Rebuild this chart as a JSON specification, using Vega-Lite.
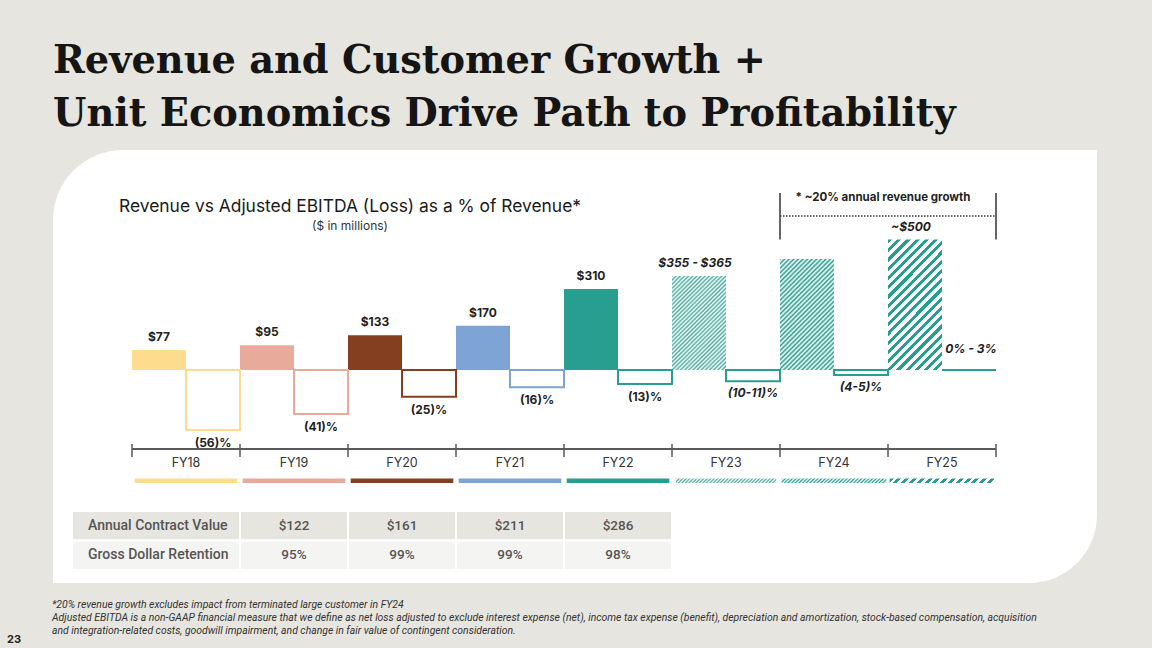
{
"$schema": "https://vega.github.io/schema/vega-lite/v6.json",
"width": 1044,
"height": 433,
"autosize": {"type": "none"},
"padding": {"left": 53, "top": 150, "right": 55, "bottom": 65},
"background": "#e6e5df",
"config": {"view": {"stroke": null}, "text": {"font": "Inter"}},
"title": {"text": ["Revenue and Customer Growth +", "Unit Economics Drive Path to Profitability"], "anchor": "start", "frame": "group", "font": "DejaVu Serif", "fontSize": 38.3, "fontWeight": "bold", "color": "#151515", "lineHeight": 53, "offset": 16, "dx": 0},
"datasets": {
 "fin": [
  {"year": "FY18", "revenue": 77, "revLabel": "$77", "ebitda": -56, "ebitdaLabel": "(56)%", "outlook": false},
  {"year": "FY19", "revenue": 95, "revLabel": "$95", "ebitda": -41, "ebitdaLabel": "(41)%", "outlook": false},
  {"year": "FY20", "revenue": 133, "revLabel": "$133", "ebitda": -25, "ebitdaLabel": "(25)%", "outlook": false},
  {"year": "FY21", "revenue": 170, "revLabel": "$170", "ebitda": -16, "ebitdaLabel": "(16)%", "outlook": false},
  {"year": "FY22", "revenue": 310, "revLabel": "$310", "ebitda": -13, "ebitdaLabel": "(13)%", "outlook": false},
  {"year": "FY23", "revenue": 360, "revLabel": "$355 - $365", "ebitda": -10.5, "ebitdaLabel": "(10-11)%", "outlook": true},
  {"year": "FY24", "revenue": 425, "revLabel": "", "ebitda": -4.5, "ebitdaLabel": "(4-5)%", "outlook": true},
  {"year": "FY25", "revenue": 500, "revLabel": "~$500", "ebitda": 0, "ebitdaLabel": "0% - 3%", "outlook": true}
 ],
 "table": [
  {"metric": "Annual Contract Value", "year": "FY19", "value": "$122"},
  {"metric": "Annual Contract Value", "year": "FY20", "value": "$161"},
  {"metric": "Annual Contract Value", "year": "FY21", "value": "$211"},
  {"metric": "Annual Contract Value", "year": "FY22", "value": "$286"},
  {"metric": "Gross Dollar Retention", "year": "FY19", "value": "95%"},
  {"metric": "Gross Dollar Retention", "year": "FY20", "value": "99%"},
  {"metric": "Gross Dollar Retention", "year": "FY21", "value": "99%"},
  {"metric": "Gross Dollar Retention", "year": "FY22", "value": "98%"}
 ],
 "bracket": [
  {"start": "FY24", "end": "FY25", "label": "* ~20% annual revenue growth"}
 ],
 "timeline": [
  {"start": "FY18", "end": "FY25"}
 ],
 "notes": [
  {"text": ["*20% revenue growth excludes impact from terminated large customer in FY24", "Adjusted EBITDA is a non-GAAP financial measure that we define as net loss adjusted to exclude interest expense (net), income tax expense (benefit), depreciation and amortization, stock-based compensation, acquisition", "and integration-related costs,  goodwill impairment,  and change in fair value of contingent consideration."]}
 ],
 "page": [
  {"text": "23"}
 ]
},
"layer": [
 {"data": {"values": [{}]}, "mark": {"type": "rect", "fill": "#ffffff", "cornerRadiusTopLeft": 70, "cornerRadiusBottomRight": 68}, "encoding": {}},
 {"layer": [
  {"data": {"name": "fin"}, "transform": [{"filter": "!datum.outlook"}], "mark": {"type": "bar"},
   "encoding": {
    "x": {"field": "year", "type": "nominal", "scale": {"domain": ["FY18","FY19","FY20","FY21","FY22","FY23","FY24","FY25"], "paddingInner": 0, "paddingOuter": 0.8333, "align": 0.4389}, "axis": null},
    "xOffset": {"datum": "Revenue", "type": "nominal", "scale": {"domain": ["Revenue", "EBITDA"], "paddingInner": 0, "paddingOuter": 0}},
    "y": {"field": "revenue", "type": "quantitative", "scale": {"domain": [-816, 843], "nice": false, "zero": false}, "axis": null},
    "y2": {"datum": 0},
    "fill": {"field": "year", "type": "nominal", "scale": {"domain": ["FY18","FY19","FY20","FY21","FY22","FY23","FY24","FY25"], "range": ["#fddc8e","#e8ab9b","#843f21","#7ea3d5","#279e8f","#279e8f","#279e8f","#279e8f"]}, "legend": null}
   }},
  {"data": {"name": "fin"}, "transform": [{"filter": "datum.year === 'FY23'"}],
   "mark": {"type": "bar", "fill": {"gradient": "linear", "x1": 0, "y1": 0, "x2": 0.673, "y2": 1.186, "stops": [{"offset":0,"color":"#49ab9f"},{"offset":0.0139,"color":"#fff"},{"offset":0.0278,"color":"#49ab9f"},{"offset":0.0417,"color":"#fff"},{"offset":0.0556,"color":"#49ab9f"},{"offset":0.0694,"color":"#fff"},{"offset":0.0833,"color":"#49ab9f"},{"offset":0.0972,"color":"#fff"},{"offset":0.1111,"color":"#49ab9f"},{"offset":0.125,"color":"#fff"},{"offset":0.1389,"color":"#49ab9f"},{"offset":0.1528,"color":"#fff"},{"offset":0.1667,"color":"#49ab9f"},{"offset":0.1806,"color":"#fff"},{"offset":0.1944,"color":"#49ab9f"},{"offset":0.2083,"color":"#fff"},{"offset":0.2222,"color":"#49ab9f"},{"offset":0.2361,"color":"#fff"},{"offset":0.25,"color":"#49ab9f"},{"offset":0.2639,"color":"#fff"},{"offset":0.2778,"color":"#49ab9f"},{"offset":0.2917,"color":"#fff"},{"offset":0.3056,"color":"#49ab9f"},{"offset":0.3194,"color":"#fff"},{"offset":0.3333,"color":"#49ab9f"},{"offset":0.3472,"color":"#fff"},{"offset":0.3611,"color":"#49ab9f"},{"offset":0.375,"color":"#fff"},{"offset":0.3889,"color":"#49ab9f"},{"offset":0.4028,"color":"#fff"},{"offset":0.4167,"color":"#49ab9f"},{"offset":0.4306,"color":"#fff"},{"offset":0.4444,"color":"#49ab9f"},{"offset":0.4583,"color":"#fff"},{"offset":0.4722,"color":"#49ab9f"},{"offset":0.4861,"color":"#fff"},{"offset":0.5,"color":"#49ab9f"},{"offset":0.5139,"color":"#fff"},{"offset":0.5278,"color":"#49ab9f"},{"offset":0.5417,"color":"#fff"},{"offset":0.5556,"color":"#49ab9f"},{"offset":0.5694,"color":"#fff"},{"offset":0.5833,"color":"#49ab9f"},{"offset":0.5972,"color":"#fff"},{"offset":0.6111,"color":"#49ab9f"},{"offset":0.625,"color":"#fff"},{"offset":0.6389,"color":"#49ab9f"},{"offset":0.6528,"color":"#fff"},{"offset":0.6667,"color":"#49ab9f"},{"offset":0.6806,"color":"#fff"},{"offset":0.6944,"color":"#49ab9f"},{"offset":0.7083,"color":"#fff"},{"offset":0.7222,"color":"#49ab9f"},{"offset":0.7361,"color":"#fff"},{"offset":0.75,"color":"#49ab9f"},{"offset":0.7639,"color":"#fff"},{"offset":0.7778,"color":"#49ab9f"},{"offset":0.7917,"color":"#fff"},{"offset":0.8056,"color":"#49ab9f"},{"offset":0.8194,"color":"#fff"},{"offset":0.8333,"color":"#49ab9f"},{"offset":0.8472,"color":"#fff"},{"offset":0.8611,"color":"#49ab9f"},{"offset":0.875,"color":"#fff"},{"offset":0.8889,"color":"#49ab9f"},{"offset":0.9028,"color":"#fff"},{"offset":0.9167,"color":"#49ab9f"},{"offset":0.9306,"color":"#fff"},{"offset":0.9444,"color":"#49ab9f"},{"offset":0.9583,"color":"#fff"},{"offset":0.9722,"color":"#49ab9f"},{"offset":0.9861,"color":"#fff"},{"offset":1,"color":"#49ab9f"}]}},
   "encoding": {
    "x": {"field": "year", "type": "nominal", "scale": {"domain": ["FY18","FY19","FY20","FY21","FY22","FY23","FY24","FY25"], "paddingInner": 0, "paddingOuter": 0.8333, "align": 0.4389}, "axis": null},
    "xOffset": {"datum": "Revenue", "type": "nominal", "scale": {"domain": ["Revenue", "EBITDA"], "paddingInner": 0, "paddingOuter": 0}},
    "y": {"field": "revenue", "type": "quantitative", "scale": {"domain": [-816, 843], "nice": false, "zero": false}, "axis": null},
    "y2": {"datum": 0}
   }},
  {"data": {"name": "fin"}, "transform": [{"filter": "datum.year === 'FY24'"}],
   "mark": {"type": "bar", "fill": {"gradient": "linear", "x1": 0, "y1": 0, "x2": 0.584, "y2": 1.202, "stops": [{"offset":0,"color":"#279e8f"},{"offset":0.0139,"color":"#fff"},{"offset":0.0278,"color":"#279e8f"},{"offset":0.0417,"color":"#fff"},{"offset":0.0556,"color":"#279e8f"},{"offset":0.0694,"color":"#fff"},{"offset":0.0833,"color":"#279e8f"},{"offset":0.0972,"color":"#fff"},{"offset":0.1111,"color":"#279e8f"},{"offset":0.125,"color":"#fff"},{"offset":0.1389,"color":"#279e8f"},{"offset":0.1528,"color":"#fff"},{"offset":0.1667,"color":"#279e8f"},{"offset":0.1806,"color":"#fff"},{"offset":0.1944,"color":"#279e8f"},{"offset":0.2083,"color":"#fff"},{"offset":0.2222,"color":"#279e8f"},{"offset":0.2361,"color":"#fff"},{"offset":0.25,"color":"#279e8f"},{"offset":0.2639,"color":"#fff"},{"offset":0.2778,"color":"#279e8f"},{"offset":0.2917,"color":"#fff"},{"offset":0.3056,"color":"#279e8f"},{"offset":0.3194,"color":"#fff"},{"offset":0.3333,"color":"#279e8f"},{"offset":0.3472,"color":"#fff"},{"offset":0.3611,"color":"#279e8f"},{"offset":0.375,"color":"#fff"},{"offset":0.3889,"color":"#279e8f"},{"offset":0.4028,"color":"#fff"},{"offset":0.4167,"color":"#279e8f"},{"offset":0.4306,"color":"#fff"},{"offset":0.4444,"color":"#279e8f"},{"offset":0.4583,"color":"#fff"},{"offset":0.4722,"color":"#279e8f"},{"offset":0.4861,"color":"#fff"},{"offset":0.5,"color":"#279e8f"},{"offset":0.5139,"color":"#fff"},{"offset":0.5278,"color":"#279e8f"},{"offset":0.5417,"color":"#fff"},{"offset":0.5556,"color":"#279e8f"},{"offset":0.5694,"color":"#fff"},{"offset":0.5833,"color":"#279e8f"},{"offset":0.5972,"color":"#fff"},{"offset":0.6111,"color":"#279e8f"},{"offset":0.625,"color":"#fff"},{"offset":0.6389,"color":"#279e8f"},{"offset":0.6528,"color":"#fff"},{"offset":0.6667,"color":"#279e8f"},{"offset":0.6806,"color":"#fff"},{"offset":0.6944,"color":"#279e8f"},{"offset":0.7083,"color":"#fff"},{"offset":0.7222,"color":"#279e8f"},{"offset":0.7361,"color":"#fff"},{"offset":0.75,"color":"#279e8f"},{"offset":0.7639,"color":"#fff"},{"offset":0.7778,"color":"#279e8f"},{"offset":0.7917,"color":"#fff"},{"offset":0.8056,"color":"#279e8f"},{"offset":0.8194,"color":"#fff"},{"offset":0.8333,"color":"#279e8f"},{"offset":0.8472,"color":"#fff"},{"offset":0.8611,"color":"#279e8f"},{"offset":0.875,"color":"#fff"},{"offset":0.8889,"color":"#279e8f"},{"offset":0.9028,"color":"#fff"},{"offset":0.9167,"color":"#279e8f"},{"offset":0.9306,"color":"#fff"},{"offset":0.9444,"color":"#279e8f"},{"offset":0.9583,"color":"#fff"},{"offset":0.9722,"color":"#279e8f"},{"offset":0.9861,"color":"#fff"},{"offset":1,"color":"#279e8f"}]}},
   "encoding": {
    "x": {"field": "year", "type": "nominal", "scale": {"domain": ["FY18","FY19","FY20","FY21","FY22","FY23","FY24","FY25"], "paddingInner": 0, "paddingOuter": 0.8333, "align": 0.4389}, "axis": null},
    "xOffset": {"datum": "Revenue", "type": "nominal", "scale": {"domain": ["Revenue", "EBITDA"], "paddingInner": 0, "paddingOuter": 0}},
    "y": {"field": "revenue", "type": "quantitative", "scale": {"domain": [-816, 843], "nice": false, "zero": false}, "axis": null},
    "y2": {"datum": 0}
   }},
  {"data": {"name": "fin"}, "transform": [{"filter": "datum.year === 'FY25'"}],
   "mark": {"type": "bar", "fill": {"gradient": "linear", "x1": 0, "y1": 0, "x2": 0.501, "y2": 1.207, "stops": [{"offset":0,"color":"#279e8f"},{"offset":0.0225,"color":"#279e8f"},{"offset":0.0225,"color":"#fff"},{"offset":0.05,"color":"#fff"},{"offset":0.05,"color":"#279e8f"},{"offset":0.0725,"color":"#279e8f"},{"offset":0.0725,"color":"#fff"},{"offset":0.1,"color":"#fff"},{"offset":0.1,"color":"#279e8f"},{"offset":0.1225,"color":"#279e8f"},{"offset":0.1225,"color":"#fff"},{"offset":0.15,"color":"#fff"},{"offset":0.15,"color":"#279e8f"},{"offset":0.1725,"color":"#279e8f"},{"offset":0.1725,"color":"#fff"},{"offset":0.2,"color":"#fff"},{"offset":0.2,"color":"#279e8f"},{"offset":0.2225,"color":"#279e8f"},{"offset":0.2225,"color":"#fff"},{"offset":0.25,"color":"#fff"},{"offset":0.25,"color":"#279e8f"},{"offset":0.2725,"color":"#279e8f"},{"offset":0.2725,"color":"#fff"},{"offset":0.3,"color":"#fff"},{"offset":0.3,"color":"#279e8f"},{"offset":0.3225,"color":"#279e8f"},{"offset":0.3225,"color":"#fff"},{"offset":0.35,"color":"#fff"},{"offset":0.35,"color":"#279e8f"},{"offset":0.3725,"color":"#279e8f"},{"offset":0.3725,"color":"#fff"},{"offset":0.4,"color":"#fff"},{"offset":0.4,"color":"#279e8f"},{"offset":0.4225,"color":"#279e8f"},{"offset":0.4225,"color":"#fff"},{"offset":0.45,"color":"#fff"},{"offset":0.45,"color":"#279e8f"},{"offset":0.4725,"color":"#279e8f"},{"offset":0.4725,"color":"#fff"},{"offset":0.5,"color":"#fff"},{"offset":0.5,"color":"#279e8f"},{"offset":0.5225,"color":"#279e8f"},{"offset":0.5225,"color":"#fff"},{"offset":0.55,"color":"#fff"},{"offset":0.55,"color":"#279e8f"},{"offset":0.5725,"color":"#279e8f"},{"offset":0.5725,"color":"#fff"},{"offset":0.6,"color":"#fff"},{"offset":0.6,"color":"#279e8f"},{"offset":0.6225,"color":"#279e8f"},{"offset":0.6225,"color":"#fff"},{"offset":0.65,"color":"#fff"},{"offset":0.65,"color":"#279e8f"},{"offset":0.6725,"color":"#279e8f"},{"offset":0.6725,"color":"#fff"},{"offset":0.7,"color":"#fff"},{"offset":0.7,"color":"#279e8f"},{"offset":0.7225,"color":"#279e8f"},{"offset":0.7225,"color":"#fff"},{"offset":0.75,"color":"#fff"},{"offset":0.75,"color":"#279e8f"},{"offset":0.7725,"color":"#279e8f"},{"offset":0.7725,"color":"#fff"},{"offset":0.8,"color":"#fff"},{"offset":0.8,"color":"#279e8f"},{"offset":0.8225,"color":"#279e8f"},{"offset":0.8225,"color":"#fff"},{"offset":0.85,"color":"#fff"},{"offset":0.85,"color":"#279e8f"},{"offset":0.8725,"color":"#279e8f"},{"offset":0.8725,"color":"#fff"},{"offset":0.9,"color":"#fff"},{"offset":0.9,"color":"#279e8f"},{"offset":0.9225,"color":"#279e8f"},{"offset":0.9225,"color":"#fff"},{"offset":0.95,"color":"#fff"},{"offset":0.95,"color":"#279e8f"},{"offset":0.9725,"color":"#279e8f"},{"offset":0.9725,"color":"#fff"},{"offset":1,"color":"#fff"}]}},
   "encoding": {
    "x": {"field": "year", "type": "nominal", "scale": {"domain": ["FY18","FY19","FY20","FY21","FY22","FY23","FY24","FY25"], "paddingInner": 0, "paddingOuter": 0.8333, "align": 0.4389}, "axis": null},
    "xOffset": {"datum": "Revenue", "type": "nominal", "scale": {"domain": ["Revenue", "EBITDA"], "paddingInner": 0, "paddingOuter": 0}},
    "y": {"field": "revenue", "type": "quantitative", "scale": {"domain": [-816, 843], "nice": false, "zero": false}, "axis": null},
    "y2": {"datum": 0}
   }},
  {"data": {"name": "fin"}, "transform": [{"filter": "!datum.outlook"}],
   "mark": {"type": "text", "font": "Inter", "fontSize": 12, "fontWeight": "bold", "color": "#1f1f1f", "dy": -13},
   "encoding": {
    "x": {"field": "year", "type": "nominal", "scale": {"domain": ["FY18","FY19","FY20","FY21","FY22","FY23","FY24","FY25"], "paddingInner": 0, "paddingOuter": 0.8333, "align": 0.4389}, "axis": null},
    "xOffset": {"datum": "Revenue", "type": "nominal", "scale": {"domain": ["Revenue", "EBITDA"], "paddingInner": 0, "paddingOuter": 0}},
    "y": {"field": "revenue", "type": "quantitative", "scale": {"domain": [-816, 843], "nice": false, "zero": false}, "axis": null},
    "text": {"field": "revLabel"}
   }},
  {"data": {"name": "fin"}, "transform": [{"filter": "datum.outlook"}],
   "mark": {"type": "text", "font": "Inter", "fontSize": 12, "fontWeight": "bold", "fontStyle": "italic", "color": "#1f1f1f", "dy": -13, "dx": -4},
   "encoding": {
    "x": {"field": "year", "type": "nominal", "scale": {"domain": ["FY18","FY19","FY20","FY21","FY22","FY23","FY24","FY25"], "paddingInner": 0, "paddingOuter": 0.8333, "align": 0.4389}, "axis": null},
    "xOffset": {"datum": "Revenue", "type": "nominal", "scale": {"domain": ["Revenue", "EBITDA"], "paddingInner": 0, "paddingOuter": 0}},
    "y": {"field": "revenue", "type": "quantitative", "scale": {"domain": [-816, 843], "nice": false, "zero": false}, "axis": null},
    "text": {"field": "revLabel"}
   }},
  {"data": {"name": "bracket"}, "mark": {"type": "rule", "color": "#333", "strokeWidth": 1.5},
   "encoding": {
    "x": {"field": "start", "type": "nominal", "bandPosition": 0, "scale": {"domain": ["FY18","FY19","FY20","FY21","FY22","FY23","FY24","FY25"], "paddingInner": 0, "paddingOuter": 0.8333, "align": 0.4389}, "axis": null},
    "y": {"datum": 500, "type": "quantitative", "scale": {"domain": [-816, 843], "nice": false, "zero": false}, "axis": null},
    "y2": {"datum": 678}
   }},
  {"data": {"name": "bracket"}, "mark": {"type": "rule", "color": "#333", "strokeWidth": 1.5},
   "encoding": {
    "x": {"field": "end", "type": "nominal", "bandPosition": 1, "scale": {"domain": ["FY18","FY19","FY20","FY21","FY22","FY23","FY24","FY25"], "paddingInner": 0, "paddingOuter": 0.8333, "align": 0.4389}, "axis": null},
    "y": {"datum": 500, "type": "quantitative", "scale": {"domain": [-816, 843], "nice": false, "zero": false}, "axis": null},
    "y2": {"datum": 678}
   }},
  {"data": {"name": "bracket"}, "mark": {"type": "rule", "color": "#333", "strokeWidth": 1.5, "strokeDash": [1.5, 1.5]},
   "encoding": {
    "x": {"field": "start", "type": "nominal", "bandPosition": 0, "scale": {"domain": ["FY18","FY19","FY20","FY21","FY22","FY23","FY24","FY25"], "paddingInner": 0, "paddingOuter": 0.8333, "align": 0.4389}, "axis": null},
    "x2": {"field": "end", "bandPosition": 1},
    "y": {"datum": 590, "type": "quantitative", "scale": {"domain": [-816, 843], "nice": false, "zero": false}, "axis": null}
   }},
  {"data": {"name": "bracket"}, "mark": {"type": "text", "font": "Inter", "fontSize": 11.5, "fontWeight": "bold", "color": "#1f1f1f", "dx": -5},
   "encoding": {
    "x": {"field": "end", "type": "nominal", "bandPosition": 0, "scale": {"domain": ["FY18","FY19","FY20","FY21","FY22","FY23","FY24","FY25"], "paddingInner": 0, "paddingOuter": 0.8333, "align": 0.4389}, "axis": null},
    "y": {"datum": 659, "type": "quantitative", "scale": {"domain": [-816, 843], "nice": false, "zero": false}, "axis": null},
    "text": {"field": "label"}
   }},
  {"data": {"values": [{"text": "Revenue vs Adjusted EBITDA (Loss) as a % of Revenue*"}]}, "mark": {"type": "text", "font": "Inter", "fontSize": 17.4, "color": "#1a1a1a", "dx": 2},
   "encoding": {
    "x": {"datum": "FY20", "type": "nominal", "bandPosition": 0, "scale": {"domain": ["FY18","FY19","FY20","FY21","FY22","FY23","FY24","FY25"], "paddingInner": 0, "paddingOuter": 0.8333, "align": 0.4389}, "axis": null},
    "y": {"datum": 624.5, "type": "quantitative", "scale": {"domain": [-816, 843], "nice": false, "zero": false}, "axis": null},
    "text": {"field": "text"}
   }},
  {"data": {"values": [{"text": "($ in millions)"}]}, "mark": {"type": "text", "font": "Inter", "fontSize": 12, "color": "#333", "dx": 2},
   "encoding": {
    "x": {"datum": "FY20", "type": "nominal", "bandPosition": 0, "scale": {"domain": ["FY18","FY19","FY20","FY21","FY22","FY23","FY24","FY25"], "paddingInner": 0, "paddingOuter": 0.8333, "align": 0.4389}, "axis": null},
    "y": {"datum": 552, "type": "quantitative", "scale": {"domain": [-816, 843], "nice": false, "zero": false}, "axis": null},
    "text": {"field": "text"}
   }}
 ]},
 {"layer": [
  {"data": {"name": "fin"}, "mark": {"type": "bar", "fill": "#ffffff", "strokeWidth": 2},
   "encoding": {
    "x": {"field": "year", "type": "nominal", "scale": {"domain": ["FY18","FY19","FY20","FY21","FY22","FY23","FY24","FY25"], "paddingInner": 0, "paddingOuter": 0.8333, "align": 0.4389}, "axis": null},
    "xOffset": {"datum": "EBITDA", "type": "nominal", "scale": {"domain": ["Revenue", "EBITDA"], "paddingInner": 0, "paddingOuter": 0}},
    "y": {"field": "ebitda", "type": "quantitative", "scale": {"domain": [-199, 205.7], "nice": false, "zero": false}, "axis": null},
    "y2": {"datum": 0},
    "stroke": {"field": "year", "type": "nominal", "scale": {"domain": ["FY18","FY19","FY20","FY21","FY22","FY23","FY24","FY25"], "range": ["#fddc8e","#e8ab9b","#843f21","#7ea3d5","#279e8f","#279e8f","#279e8f","#279e8f"]}, "legend": null}
   }},
  {"data": {"name": "fin"}, "transform": [{"filter": "!datum.outlook"}],
   "mark": {"type": "text", "font": "Inter", "fontSize": 12, "fontWeight": "bold", "color": "#1f1f1f", "dy": 13},
   "encoding": {
    "x": {"field": "year", "type": "nominal", "scale": {"domain": ["FY18","FY19","FY20","FY21","FY22","FY23","FY24","FY25"], "paddingInner": 0, "paddingOuter": 0.8333, "align": 0.4389}, "axis": null},
    "xOffset": {"datum": "EBITDA", "type": "nominal", "scale": {"domain": ["Revenue", "EBITDA"], "paddingInner": 0, "paddingOuter": 0}},
    "y": {"field": "ebitda", "type": "quantitative", "scale": {"domain": [-199, 205.7], "nice": false, "zero": false}, "axis": null},
    "text": {"field": "ebitdaLabel"}
   }},
  {"data": {"name": "fin"}, "transform": [{"filter": "datum.outlook && datum.ebitda < 0"}],
   "mark": {"type": "text", "font": "Inter", "fontSize": 12, "fontWeight": "bold", "fontStyle": "italic", "color": "#1f1f1f", "dy": 12},
   "encoding": {
    "x": {"field": "year", "type": "nominal", "scale": {"domain": ["FY18","FY19","FY20","FY21","FY22","FY23","FY24","FY25"], "paddingInner": 0, "paddingOuter": 0.8333, "align": 0.4389}, "axis": null},
    "xOffset": {"datum": "EBITDA", "type": "nominal", "scale": {"domain": ["Revenue", "EBITDA"], "paddingInner": 0, "paddingOuter": 0}},
    "y": {"field": "ebitda", "type": "quantitative", "scale": {"domain": [-199, 205.7], "nice": false, "zero": false}, "axis": null},
    "text": {"field": "ebitdaLabel"}
   }},
  {"data": {"name": "fin"}, "transform": [{"filter": "datum.outlook && datum.ebitda >= 0"}],
   "mark": {"type": "text", "font": "Inter", "fontSize": 12, "fontWeight": "bold", "fontStyle": "italic", "color": "#1f1f1f", "dy": -21, "dx": 2},
   "encoding": {
    "x": {"field": "year", "type": "nominal", "scale": {"domain": ["FY18","FY19","FY20","FY21","FY22","FY23","FY24","FY25"], "paddingInner": 0, "paddingOuter": 0.8333, "align": 0.4389}, "axis": null},
    "xOffset": {"datum": "EBITDA", "type": "nominal", "scale": {"domain": ["Revenue", "EBITDA"], "paddingInner": 0, "paddingOuter": 0}},
    "y": {"field": "ebitda", "type": "quantitative", "scale": {"domain": [-199, 205.7], "nice": false, "zero": false}, "axis": null},
    "text": {"field": "ebitdaLabel"}
   }},
  {"data": {"name": "timeline"}, "mark": {"type": "rule", "color": "#5a5a5a", "strokeWidth": 2},
   "encoding": {
    "x": {"field": "start", "type": "nominal", "bandPosition": 0, "scale": {"domain": ["FY18","FY19","FY20","FY21","FY22","FY23","FY24","FY25"], "paddingInner": 0, "paddingOuter": 0.8333, "align": 0.4389}, "axis": null},
    "x2": {"field": "end", "bandPosition": 1},
    "y": {"datum": -73.76, "type": "quantitative", "scale": {"domain": [-199, 205.7], "nice": false, "zero": false}, "axis": null}
   }},
  {"data": {"name": "fin"}, "mark": {"type": "rule", "color": "#5a5a5a", "strokeWidth": 1.5},
   "encoding": {
    "x": {"field": "year", "type": "nominal", "bandPosition": 0, "scale": {"domain": ["FY18","FY19","FY20","FY21","FY22","FY23","FY24","FY25"], "paddingInner": 0, "paddingOuter": 0.8333, "align": 0.4389}, "axis": null},
    "y": {"datum": -69.1, "type": "quantitative", "scale": {"domain": [-199, 205.7], "nice": false, "zero": false}, "axis": null},
    "y2": {"datum": -81.2}
   }},
  {"data": {"name": "timeline"}, "mark": {"type": "rule", "color": "#5a5a5a", "strokeWidth": 1.5},
   "encoding": {
    "x": {"field": "end", "type": "nominal", "bandPosition": 1, "scale": {"domain": ["FY18","FY19","FY20","FY21","FY22","FY23","FY24","FY25"], "paddingInner": 0, "paddingOuter": 0.8333, "align": 0.4389}, "axis": null},
    "y": {"datum": -69.1, "type": "quantitative", "scale": {"domain": [-199, 205.7], "nice": false, "zero": false}, "axis": null},
    "y2": {"datum": -81.2}
   }},
  {"data": {"name": "fin"}, "mark": {"type": "text", "font": "Inter", "fontSize": 12.5, "color": "#333"},
   "encoding": {
    "x": {"field": "year", "type": "nominal", "scale": {"domain": ["FY18","FY19","FY20","FY21","FY22","FY23","FY24","FY25"], "paddingInner": 0, "paddingOuter": 0.8333, "align": 0.4389}, "axis": null},
    "y": {"datum": -86.85, "type": "quantitative", "scale": {"domain": [-199, 205.7], "nice": false, "zero": false}, "axis": null},
    "text": {"field": "year"}
   }},
  {"data": {"name": "notes"}, "mark": {"type": "text", "align": "left", "baseline": "top", "dx": -80, "font": "Roboto", "fontSize": 10.4, "fontStyle": "italic", "color": "#333", "lineHeight": 13},
   "encoding": {
    "x": {"datum": "FY18", "type": "nominal", "bandPosition": 0, "scale": {"domain": ["FY18","FY19","FY20","FY21","FY22","FY23","FY24","FY25"], "paddingInner": 0, "paddingOuter": 0.8333, "align": 0.4389}, "axis": null},
    "y": {"datum": -215.3, "type": "quantitative", "scale": {"domain": [-199, 205.7], "nice": false, "zero": false}, "axis": null},
    "text": {"field": "text"}
   }},
  {"data": {"name": "page"}, "mark": {"type": "text", "dx": -118, "font": "Inter", "fontSize": 11, "fontWeight": "bold", "color": "#222"},
   "encoding": {
    "x": {"datum": "FY18", "type": "nominal", "bandPosition": 0, "scale": {"domain": ["FY18","FY19","FY20","FY21","FY22","FY23","FY24","FY25"], "paddingInner": 0, "paddingOuter": 0.8333, "align": 0.4389}, "axis": null},
    "y": {"datum": -252.4, "type": "quantitative", "scale": {"domain": [-199, 205.7], "nice": false, "zero": false}, "axis": null},
    "text": {"field": "text"}
   }},
  {"data": {"name": "fin"}, "transform": [{"filter": "!datum.outlook"}],
   "mark": {"type": "bar", "width": {"band": 0.95}},
   "encoding": {
    "x": {"field": "year", "type": "nominal", "scale": {"domain": ["FY18","FY19","FY20","FY21","FY22","FY23","FY24","FY25"], "paddingInner": 0, "paddingOuter": 0.8333, "align": 0.4389}, "axis": null},
    "y": {"datum": -101.4, "type": "quantitative", "scale": {"domain": [-199, 205.7], "nice": false, "zero": false}, "axis": null},
    "y2": {"datum": -105.6},
    "fill": {"field": "year", "type": "nominal", "scale": {"domain": ["FY18","FY19","FY20","FY21","FY22","FY23","FY24","FY25"], "range": ["#fddc8e","#e8ab9b","#843f21","#7ea3d5","#279e8f","#279e8f","#279e8f","#279e8f"]}, "legend": null}
   }},
  {"data": {"name": "fin"}, "transform": [{"filter": "datum.year === 'FY23'"}],
   "mark": {"type": "bar", "width": {"band": 0.93}, "fill": {"gradient": "linear", "x1": 0, "y1": 0, "x2": 1.04, "y2": 0.0456, "stops": [{"offset":0,"color":"#49ab9f"},{"offset":0.0167,"color":"#fff"},{"offset":0.0333,"color":"#49ab9f"},{"offset":0.05,"color":"#fff"},{"offset":0.0667,"color":"#49ab9f"},{"offset":0.0833,"color":"#fff"},{"offset":0.1,"color":"#49ab9f"},{"offset":0.1167,"color":"#fff"},{"offset":0.1333,"color":"#49ab9f"},{"offset":0.15,"color":"#fff"},{"offset":0.1667,"color":"#49ab9f"},{"offset":0.1833,"color":"#fff"},{"offset":0.2,"color":"#49ab9f"},{"offset":0.2167,"color":"#fff"},{"offset":0.2333,"color":"#49ab9f"},{"offset":0.25,"color":"#fff"},{"offset":0.2667,"color":"#49ab9f"},{"offset":0.2833,"color":"#fff"},{"offset":0.3,"color":"#49ab9f"},{"offset":0.3167,"color":"#fff"},{"offset":0.3333,"color":"#49ab9f"},{"offset":0.35,"color":"#fff"},{"offset":0.3667,"color":"#49ab9f"},{"offset":0.3833,"color":"#fff"},{"offset":0.4,"color":"#49ab9f"},{"offset":0.4167,"color":"#fff"},{"offset":0.4333,"color":"#49ab9f"},{"offset":0.45,"color":"#fff"},{"offset":0.4667,"color":"#49ab9f"},{"offset":0.4833,"color":"#fff"},{"offset":0.5,"color":"#49ab9f"},{"offset":0.5167,"color":"#fff"},{"offset":0.5333,"color":"#49ab9f"},{"offset":0.55,"color":"#fff"},{"offset":0.5667,"color":"#49ab9f"},{"offset":0.5833,"color":"#fff"},{"offset":0.6,"color":"#49ab9f"},{"offset":0.6167,"color":"#fff"},{"offset":0.6333,"color":"#49ab9f"},{"offset":0.65,"color":"#fff"},{"offset":0.6667,"color":"#49ab9f"},{"offset":0.6833,"color":"#fff"},{"offset":0.7,"color":"#49ab9f"},{"offset":0.7167,"color":"#fff"},{"offset":0.7333,"color":"#49ab9f"},{"offset":0.75,"color":"#fff"},{"offset":0.7667,"color":"#49ab9f"},{"offset":0.7833,"color":"#fff"},{"offset":0.8,"color":"#49ab9f"},{"offset":0.8167,"color":"#fff"},{"offset":0.8333,"color":"#49ab9f"},{"offset":0.85,"color":"#fff"},{"offset":0.8667,"color":"#49ab9f"},{"offset":0.8833,"color":"#fff"},{"offset":0.9,"color":"#49ab9f"},{"offset":0.9167,"color":"#fff"},{"offset":0.9333,"color":"#49ab9f"},{"offset":0.95,"color":"#fff"},{"offset":0.9667,"color":"#49ab9f"},{"offset":0.9833,"color":"#fff"},{"offset":1,"color":"#49ab9f"}]}},
   "encoding": {
    "x": {"field": "year", "type": "nominal", "scale": {"domain": ["FY18","FY19","FY20","FY21","FY22","FY23","FY24","FY25"], "paddingInner": 0, "paddingOuter": 0.8333, "align": 0.4389}, "axis": null},
    "y": {"datum": -101.4, "type": "quantitative", "scale": {"domain": [-199, 205.7], "nice": false, "zero": false}, "axis": null},
    "y2": {"datum": -105.6}
   }},
  {"data": {"name": "fin"}, "transform": [{"filter": "datum.year === 'FY24'"}],
   "mark": {"type": "bar", "width": {"band": 0.97}, "fill": {"gradient": "linear", "x1": 0, "y1": 0, "x2": 1.04, "y2": 0.0456, "stops": [{"offset":0,"color":"#279e8f"},{"offset":0.0167,"color":"#fff"},{"offset":0.0333,"color":"#279e8f"},{"offset":0.05,"color":"#fff"},{"offset":0.0667,"color":"#279e8f"},{"offset":0.0833,"color":"#fff"},{"offset":0.1,"color":"#279e8f"},{"offset":0.1167,"color":"#fff"},{"offset":0.1333,"color":"#279e8f"},{"offset":0.15,"color":"#fff"},{"offset":0.1667,"color":"#279e8f"},{"offset":0.1833,"color":"#fff"},{"offset":0.2,"color":"#279e8f"},{"offset":0.2167,"color":"#fff"},{"offset":0.2333,"color":"#279e8f"},{"offset":0.25,"color":"#fff"},{"offset":0.2667,"color":"#279e8f"},{"offset":0.2833,"color":"#fff"},{"offset":0.3,"color":"#279e8f"},{"offset":0.3167,"color":"#fff"},{"offset":0.3333,"color":"#279e8f"},{"offset":0.35,"color":"#fff"},{"offset":0.3667,"color":"#279e8f"},{"offset":0.3833,"color":"#fff"},{"offset":0.4,"color":"#279e8f"},{"offset":0.4167,"color":"#fff"},{"offset":0.4333,"color":"#279e8f"},{"offset":0.45,"color":"#fff"},{"offset":0.4667,"color":"#279e8f"},{"offset":0.4833,"color":"#fff"},{"offset":0.5,"color":"#279e8f"},{"offset":0.5167,"color":"#fff"},{"offset":0.5333,"color":"#279e8f"},{"offset":0.55,"color":"#fff"},{"offset":0.5667,"color":"#279e8f"},{"offset":0.5833,"color":"#fff"},{"offset":0.6,"color":"#279e8f"},{"offset":0.6167,"color":"#fff"},{"offset":0.6333,"color":"#279e8f"},{"offset":0.65,"color":"#fff"},{"offset":0.6667,"color":"#279e8f"},{"offset":0.6833,"color":"#fff"},{"offset":0.7,"color":"#279e8f"},{"offset":0.7167,"color":"#fff"},{"offset":0.7333,"color":"#279e8f"},{"offset":0.75,"color":"#fff"},{"offset":0.7667,"color":"#279e8f"},{"offset":0.7833,"color":"#fff"},{"offset":0.8,"color":"#279e8f"},{"offset":0.8167,"color":"#fff"},{"offset":0.8333,"color":"#279e8f"},{"offset":0.85,"color":"#fff"},{"offset":0.8667,"color":"#279e8f"},{"offset":0.8833,"color":"#fff"},{"offset":0.9,"color":"#279e8f"},{"offset":0.9167,"color":"#fff"},{"offset":0.9333,"color":"#279e8f"},{"offset":0.95,"color":"#fff"},{"offset":0.9667,"color":"#279e8f"},{"offset":0.9833,"color":"#fff"},{"offset":1,"color":"#279e8f"}]}},
   "encoding": {
    "x": {"field": "year", "type": "nominal", "scale": {"domain": ["FY18","FY19","FY20","FY21","FY22","FY23","FY24","FY25"], "paddingInner": 0, "paddingOuter": 0.8333, "align": 0.4389}, "axis": null},
    "y": {"datum": -101.4, "type": "quantitative", "scale": {"domain": [-199, 205.7], "nice": false, "zero": false}, "axis": null},
    "y2": {"datum": -105.6}
   }},
  {"data": {"name": "fin"}, "transform": [{"filter": "datum.year === 'FY25'"}],
   "mark": {"type": "bar", "width": {"band": 0.97}, "fill": {"gradient": "linear", "x1": 0, "y1": 0, "x2": 1.04, "y2": 0.0456, "stops": [{"offset":0,"color":"#279e8f"},{"offset":0.0357,"color":"#279e8f"},{"offset":0.0357,"color":"#fff"},{"offset":0.0714,"color":"#fff"},{"offset":0.0714,"color":"#279e8f"},{"offset":0.1071,"color":"#279e8f"},{"offset":0.1071,"color":"#fff"},{"offset":0.1429,"color":"#fff"},{"offset":0.1429,"color":"#279e8f"},{"offset":0.1786,"color":"#279e8f"},{"offset":0.1786,"color":"#fff"},{"offset":0.2143,"color":"#fff"},{"offset":0.2143,"color":"#279e8f"},{"offset":0.25,"color":"#279e8f"},{"offset":0.25,"color":"#fff"},{"offset":0.2857,"color":"#fff"},{"offset":0.2857,"color":"#279e8f"},{"offset":0.3214,"color":"#279e8f"},{"offset":0.3214,"color":"#fff"},{"offset":0.3571,"color":"#fff"},{"offset":0.3571,"color":"#279e8f"},{"offset":0.3929,"color":"#279e8f"},{"offset":0.3929,"color":"#fff"},{"offset":0.4286,"color":"#fff"},{"offset":0.4286,"color":"#279e8f"},{"offset":0.4643,"color":"#279e8f"},{"offset":0.4643,"color":"#fff"},{"offset":0.5,"color":"#fff"},{"offset":0.5,"color":"#279e8f"},{"offset":0.5357,"color":"#279e8f"},{"offset":0.5357,"color":"#fff"},{"offset":0.5714,"color":"#fff"},{"offset":0.5714,"color":"#279e8f"},{"offset":0.6071,"color":"#279e8f"},{"offset":0.6071,"color":"#fff"},{"offset":0.6429,"color":"#fff"},{"offset":0.6429,"color":"#279e8f"},{"offset":0.6786,"color":"#279e8f"},{"offset":0.6786,"color":"#fff"},{"offset":0.7143,"color":"#fff"},{"offset":0.7143,"color":"#279e8f"},{"offset":0.75,"color":"#279e8f"},{"offset":0.75,"color":"#fff"},{"offset":0.7857,"color":"#fff"},{"offset":0.7857,"color":"#279e8f"},{"offset":0.8214,"color":"#279e8f"},{"offset":0.8214,"color":"#fff"},{"offset":0.8571,"color":"#fff"},{"offset":0.8571,"color":"#279e8f"},{"offset":0.8929,"color":"#279e8f"},{"offset":0.8929,"color":"#fff"},{"offset":0.9286,"color":"#fff"},{"offset":0.9286,"color":"#279e8f"},{"offset":0.9643,"color":"#279e8f"},{"offset":0.9643,"color":"#fff"},{"offset":1,"color":"#fff"}]}},
   "encoding": {
    "x": {"field": "year", "type": "nominal", "scale": {"domain": ["FY18","FY19","FY20","FY21","FY22","FY23","FY24","FY25"], "paddingInner": 0, "paddingOuter": 0.8333, "align": 0.4389}, "axis": null},
    "y": {"datum": -101.4, "type": "quantitative", "scale": {"domain": [-199, 205.7], "nice": false, "zero": false}, "axis": null},
    "y2": {"datum": -105.6}
   }}
 ]},
 {"layer": [
  {"data": {"name": "table"}, "mark": {"type": "rect", "stroke": "#ffffff", "strokeWidth": 2},
   "encoding": {
    "x": {"field": "year", "type": "nominal", "scale": {"domain": ["FY18","FY19","FY20","FY21","FY22","FY23","FY24","FY25"], "paddingInner": 0, "paddingOuter": 0.8333, "align": 0.4389}, "axis": null},
    "y": {"field": "metric", "type": "nominal", "scale": {"domain": ["Annual Contract Value", "Gross Dollar Retention"], "range": [361, 420], "paddingInner": 0, "paddingOuter": 0}, "axis": null},
    "color": {"field": "metric", "type": "nominal", "scale": {"domain": ["Annual Contract Value", "Gross Dollar Retention"], "range": ["#e6e5df", "#f4f4f2"]}, "legend": null}
   }},
  {"data": {"name": "table"}, "transform": [{"aggregate": [{"op": "count", "as": "n"}], "groupby": ["metric"]}],
   "mark": {"type": "rect", "width": 168, "xOffset": -30, "stroke": "#ffffff", "strokeWidth": 2},
   "encoding": {
    "x": {"datum": "FY18", "type": "nominal", "scale": {"domain": ["FY18","FY19","FY20","FY21","FY22","FY23","FY24","FY25"], "paddingInner": 0, "paddingOuter": 0.8333, "align": 0.4389}, "axis": null},
    "y": {"field": "metric", "type": "nominal", "scale": {"domain": ["Annual Contract Value", "Gross Dollar Retention"], "range": [361, 420], "paddingInner": 0, "paddingOuter": 0}, "axis": null},
    "color": {"field": "metric", "type": "nominal", "scale": {"domain": ["Annual Contract Value", "Gross Dollar Retention"], "range": ["#e6e5df", "#f4f4f2"]}, "legend": null}
   }},
  {"data": {"name": "table"}, "transform": [{"aggregate": [{"op": "count", "as": "n"}], "groupby": ["metric"]}],
   "mark": {"type": "text", "align": "left", "dx": -98, "font": "Roboto", "fontSize": 14, "fontWeight": 500, "color": "#555"},
   "encoding": {
    "x": {"datum": "FY18", "type": "nominal", "scale": {"domain": ["FY18","FY19","FY20","FY21","FY22","FY23","FY24","FY25"], "paddingInner": 0, "paddingOuter": 0.8333, "align": 0.4389}, "axis": null},
    "y": {"field": "metric", "type": "nominal", "scale": {"domain": ["Annual Contract Value", "Gross Dollar Retention"], "range": [361, 420], "paddingInner": 0, "paddingOuter": 0}, "axis": null},
    "text": {"field": "metric"}
   }},
  {"data": {"name": "table"},
   "mark": {"type": "text", "font": "Roboto", "fontSize": 13.5, "fontWeight": 500, "color": "#555"},
   "encoding": {
    "x": {"field": "year", "type": "nominal", "scale": {"domain": ["FY18","FY19","FY20","FY21","FY22","FY23","FY24","FY25"], "paddingInner": 0, "paddingOuter": 0.8333, "align": 0.4389}, "axis": null},
    "y": {"field": "metric", "type": "nominal", "scale": {"domain": ["Annual Contract Value", "Gross Dollar Retention"], "range": [361, 420], "paddingInner": 0, "paddingOuter": 0}, "axis": null},
    "text": {"field": "value"}
   }}
 ]}
],
"resolve": {"scale": {"y": "independent", "fill": "independent", "color": "independent"}}
}
